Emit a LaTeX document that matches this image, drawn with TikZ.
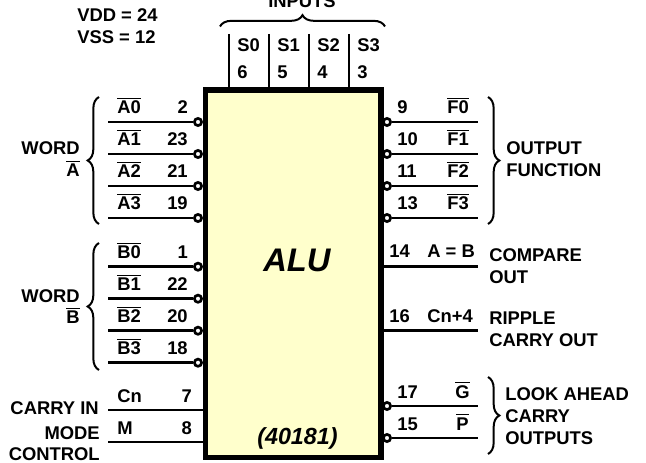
\documentclass[tikz,border=0pt]{standalone}
\usepackage{amsmath}
\usepackage{fontspec}
\setmainfont{Liberation Sans}
\usetikzlibrary{positioning}
\usetikzlibrary{decorations.pathreplacing}
\definecolor{aluyellow}{RGB}{255,255,204}
\tikzset{
    alubox/.style={
        rectangle,
        draw=black,
        fill=aluyellow,
        line width=3.8pt,
        inner sep=0pt,
        minimum width=131.6pt,
        minimum height=275.6pt
    },
    pin/.style={
        line width=1.9pt,
        draw=black
    },
    selpin/.style={
        line width=1.5pt,
        draw=black
    },
    bubble/.style={
        circle,
        draw=black,
        fill=white,
        line width=2pt,
        inner sep=0pt,
        minimum size=5.4pt
    },
    curly/.style={
        line width=1.5pt,
        decorate,
        decoration={brace, amplitude=8.5pt}
    },
    lbl/.style={
        anchor=base west,
        inner sep=0pt,
        font=\fontsize{13.8}{13.8}\selectfont\bfseries
    },
    lblr/.style={
        lbl,
        anchor=base east
    }
}
\newcommand{\nt}[1]{$\overline{\mbox{#1}}$}

\begin{document}
\begin{tikzpicture}[x=0.75pt,y=-0.75pt]
    \useasboundingbox (0,0) rectangle (646,463);

    % Chip body
    \node[alubox] (alu) at (293.25,273.75) {};
    \node[lbl, font=\fontsize{24.5}{24.5}\selectfont\bfseries\itshape] (alutext) at (263,272) {ALU};
    \node[lbl, font=\fontsize{17.5}{17.5}\selectfont\bfseries\itshape] (partno) at (257,444) {(40181)};

    % Supply note
    \node[lbl] (vdd) at (77,22) {VDD = 24};
    \node[lbl] (vss) at (77,44) {VSS = 12};

    % Select inputs
    \coordinate (tS0) at (229,34);
    \coordinate (tS1) at (269,34);
    \coordinate (tS2) at (309,34);
    \coordinate (tS3) at (349,34);
    \draw[selpin] (tS0) -- (tS0 |- alu.north);
    \draw[selpin] (tS1) -- (tS1 |- alu.north);
    \draw[selpin] (tS2) -- (tS2 |- alu.north);
    \draw[selpin] (tS3) -- (tS3 |- alu.north);
    \node[lbl] (S0) at (237,52) {S0};
    \node[lbl] (S1) at (277,52) {S1};
    \node[lbl] (S2) at (317,52) {S2};
    \node[lbl] (S3) at (357,52) {S3};
    \node[lbl] (p6) at (237,79) {6};
    \node[lbl] (p5) at (277,79) {5};
    \node[lbl] (p4) at (317,79) {4};
    \node[lbl] (p3) at (357,79) {3};
    \draw[curly] (220,26.5) -- (385,26.5);
    \node[lbl, anchor=base] (inputs) at (302,8) {INPUTS};

    % Word A
    \coordinate (eA0) at (108,122);
    \coordinate (eA1) at (108,154);
    \coordinate (eA2) at (108,186);
    \coordinate (eA3) at (108,218);
    \node[bubble] (bA0) at (198,122) {};
    \node[bubble] (bA1) at (198,154) {};
    \node[bubble] (bA2) at (198,186) {};
    \node[bubble] (bA3) at (198,218) {};
    \draw[pin] (eA0) -- (bA0);
    \draw[pin] (eA1) -- (bA1);
    \draw[pin] (eA2) -- (bA2);
    \draw[pin] (eA3) -- (bA3);
    \node[lbl] (A0) at (117,114) {\nt{A0}};
    \node[lbl] (A1) at (117,146) {\nt{A1}};
    \node[lbl] (A2) at (117,178) {\nt{A2}};
    \node[lbl] (A3) at (117,210) {\nt{A3}};
    \node[lblr] (p2) at (188,114) {2};
    \node[lblr] (p23) at (188,146) {23};
    \node[lblr] (p21) at (188,178) {21};
    \node[lblr] (p19) at (188,210) {19};
    \draw[curly] (99,224) -- (99,97);
    \node[lblr] (worda) at (80,155) {WORD};
    \node[lblr] (wordan) at (80,177) {\nt{A}};

    % Word B
    \coordinate (eB0) at (108,266.7);
    \coordinate (eB1) at (108,298.7);
    \coordinate (eB2) at (108,330.7);
    \coordinate (eB3) at (108,362.7);
    \node[bubble] (bB0) at (198,266.7) {};
    \node[bubble] (bB1) at (198,298.7) {};
    \node[bubble] (bB2) at (198,330.7) {};
    \node[bubble] (bB3) at (198,362.7) {};
    \draw[pin] (eB0) -- (bB0);
    \draw[pin] (eB1) -- (bB1);
    \draw[pin] (eB2) -- (bB2);
    \draw[pin] (eB3) -- (bB3);
    \node[lbl] (B0) at (117,258.7) {\nt{B0}};
    \node[lbl] (B1) at (117,290.7) {\nt{B1}};
    \node[lbl] (B2) at (117,322.7) {\nt{B2}};
    \node[lbl] (B3) at (117,354.7) {\nt{B3}};
    \node[lblr] (p1) at (188,258.7) {1};
    \node[lblr] (p22) at (188,290.7) {22};
    \node[lblr] (p20) at (188,322.7) {20};
    \node[lblr] (p18) at (188,354.7) {18};
    \draw[curly] (99,370) -- (99,243);
    \node[lblr] (wordb) at (80,302) {WORD};
    \node[lblr] (wordbn) at (80,324) {\nt{B}};

    % Carry in and mode
    \coordinate (eCn) at (108,410);
    \coordinate (eM) at (108,442);
    \draw[pin] (eCn) -- (eCn -| alu.west);
    \draw[pin] (eM) -- (eM -| alu.west);
    \node[lbl] (Cn) at (117,402) {Cn};
    \node[lbl] (M) at (117,434) {M};
    \node[lblr] (p7) at (192,402) {7};
    \node[lblr] (p8) at (192,434) {8};
    \node[lblr] (carryin) at (99,414) {CARRY IN};
    \node[lblr] (mode) at (100,439) {MODE};
    \node[lblr] (control) at (100,460) {CONTROL};

    % Output function
    \coordinate (eF0) at (478,122);
    \coordinate (eF1) at (478,154);
    \coordinate (eF2) at (478,186);
    \coordinate (eF3) at (478,218);
    \node[bubble] (bF0) at (387,122) {};
    \node[bubble] (bF1) at (387,154) {};
    \node[bubble] (bF2) at (387,186) {};
    \node[bubble] (bF3) at (387,218) {};
    \draw[pin] (bF0) -- (eF0);
    \draw[pin] (bF1) -- (eF1);
    \draw[pin] (bF2) -- (eF2);
    \draw[pin] (bF3) -- (eF3);
    \node[lbl] (p9) at (397,114) {9};
    \node[lbl] (p10) at (397,146) {10};
    \node[lbl] (p11) at (397,178) {11};
    \node[lbl] (p13) at (397,210) {13};
    \node[lbl] (F0) at (447,114) {\nt{F0}};
    \node[lbl] (F1) at (447,146) {\nt{F1}};
    \node[lbl] (F2) at (447,178) {\nt{F2}};
    \node[lbl] (F3) at (447,210) {\nt{F3}};
    \draw[curly] (488,97) -- (488,224);
    \node[lbl] (output) at (506,155) {OUTPUT};
    \node[lbl] (function) at (506,177) {FUNCTION};

    % Compare and ripple carry
    \coordinate (eEq) at (478,266.7);
    \coordinate (eRc) at (478,330.7);
    \draw[pin] (eEq -| alu.east) -- (eEq);
    \draw[pin] (eRc -| alu.east) -- (eRc);
    \node[lbl] (p14) at (389,258) {14};
    \node[lbl] (p16) at (389,322) {16};
    \node[lbl] (eq) at (427,258) {A = B};
    \node[lbl] (cn4) at (427,322) {Cn+4};
    \node[lbl] (compare) at (489,262) {COMPARE};
    \node[lbl] (out) at (489,284) {OUT};
    \node[lbl] (ripple) at (489,325) {RIPPLE};
    \node[lbl] (carryout) at (489,346) {CARRY OUT};

    % Look ahead
    \coordinate (eG) at (478,406);
    \coordinate (eP) at (478,438);
    \node[bubble] (bG) at (387,406) {};
    \node[bubble] (bP) at (387,438) {};
    \draw[pin] (bG) -- (eG);
    \draw[pin] (bP) -- (eP);
    \node[lbl] (p17) at (397,398) {17};
    \node[lbl] (p15) at (397,430) {15};
    \node[lbl] (G) at (455,398) {\nt{G}};
    \node[lbl] (P) at (456,430) {\nt{P}};
    \draw[curly] (488,377) -- (488,454);
    \node[lbl] (lookahead) at (505,400) {LOOK AHEAD};
    \node[lbl] (carry) at (505,422) {CARRY};
    \node[lbl] (outputs) at (505,444) {OUTPUTS};
\end{tikzpicture}
\end{document}
